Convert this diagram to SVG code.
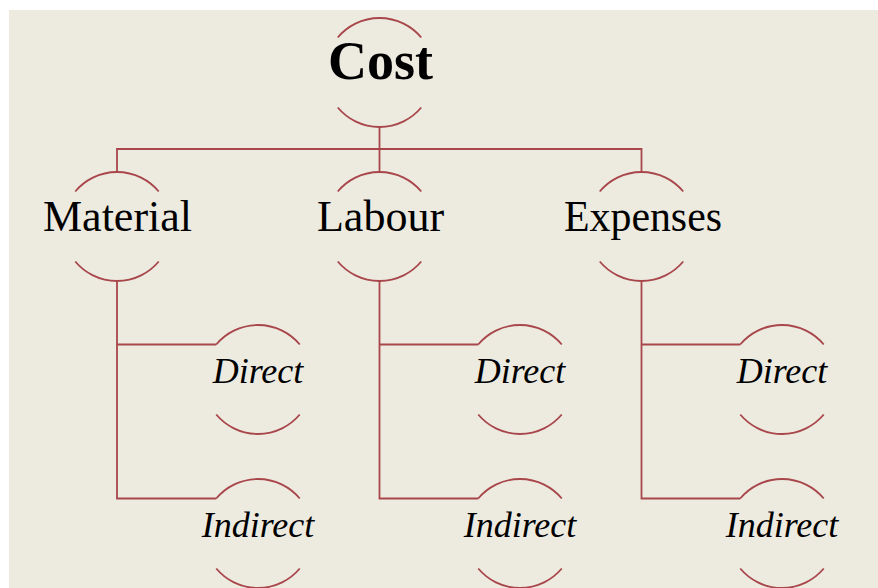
<svg xmlns="http://www.w3.org/2000/svg" xmlns:xlink="http://www.w3.org/1999/xlink" width="878" height="588" viewBox="0 0 878 588">
  <style>
    .link { fill: none; stroke: #A8464A; stroke-width: 1.8; }
    .arc { fill: none; stroke: #A8464A; stroke-width: 1.8; }
    .label { font-family: "Liberation Serif", "Times New Roman", serif; fill: #000; text-anchor: middle; }
    .root { font-size: 54px; font-weight: bold; }
    .mid { font-size: 44px; }
    .leaf { font-size: 36px; font-style: italic; }
  </style>
  <defs>
    <!-- circle outline shown only as top and bottom arcs (r = 54.5, ±50° from vertical) -->
    <g id="ring">
      <path class="arc" d="M -41.75 -35.03 A 54.5 54.5 0 0 1 41.75 -35.03"/>
      <path class="arc" d="M -41.75 35.03 A 54.5 54.5 0 0 0 41.75 35.03"/>
    </g>
  </defs>

  <rect x="9" y="10" width="869" height="578" fill="#EDEAE0"/>

  <g id="connectors">
    <path class="link" d="M 379.5 127 V 149"/>
    <path class="link" d="M 117 172 V 149 H 641.5 V 172"/>
    <path class="link" d="M 379.5 149 V 172"/>
    <path class="link" d="M 117 281 V 498.5 H 216.25 M 117 344.5 H 216.25"/>
    <path class="link" d="M 379.5 281 V 498.5 H 478.25 M 379.5 344.5 H 478.25"/>
    <path class="link" d="M 641.5 281 V 498.5 H 740.25 M 641.5 344.5 H 740.25"/>
  </g>

  <g id="cost" transform="translate(379.5 72.5)">
    <use xlink:href="#ring"/>
    <text class="label root" x="1" y="6.5">Cost</text>
  </g>

  <g id="material" transform="translate(117 226.5)">
    <use xlink:href="#ring"/>
    <text class="label mid" x="0.5" y="4.5">Material</text>
  </g>
  <g id="labour" transform="translate(379.5 226.5)">
    <use xlink:href="#ring"/>
    <text class="label mid" x="1" y="4.5">Labour</text>
  </g>
  <g id="expenses" transform="translate(641.5 226.5)">
    <use xlink:href="#ring"/>
    <text class="label mid" x="1.5" y="4.5" textLength="158" lengthAdjust="spacingAndGlyphs">Expenses</text>
  </g>

  <g id="material-direct" transform="translate(258 379.5)">
    <use xlink:href="#ring"/>
    <text class="label leaf" x="0" y="3.5">Direct</text>
  </g>
  <g id="material-indirect" transform="translate(258 533.5)">
    <use xlink:href="#ring"/>
    <text class="label leaf" x="0" y="3.5">Indirect</text>
  </g>
  <g id="labour-direct" transform="translate(520 379.5)">
    <use xlink:href="#ring"/>
    <text class="label leaf" x="0" y="3.5">Direct</text>
  </g>
  <g id="labour-indirect" transform="translate(520 533.5)">
    <use xlink:href="#ring"/>
    <text class="label leaf" x="0" y="3.5">Indirect</text>
  </g>
  <g id="expenses-direct" transform="translate(782 379.5)">
    <use xlink:href="#ring"/>
    <text class="label leaf" x="0" y="3.5">Direct</text>
  </g>
  <g id="expenses-indirect" transform="translate(782 533.5)">
    <use xlink:href="#ring"/>
    <text class="label leaf" x="0" y="3.5">Indirect</text>
  </g>
</svg>
